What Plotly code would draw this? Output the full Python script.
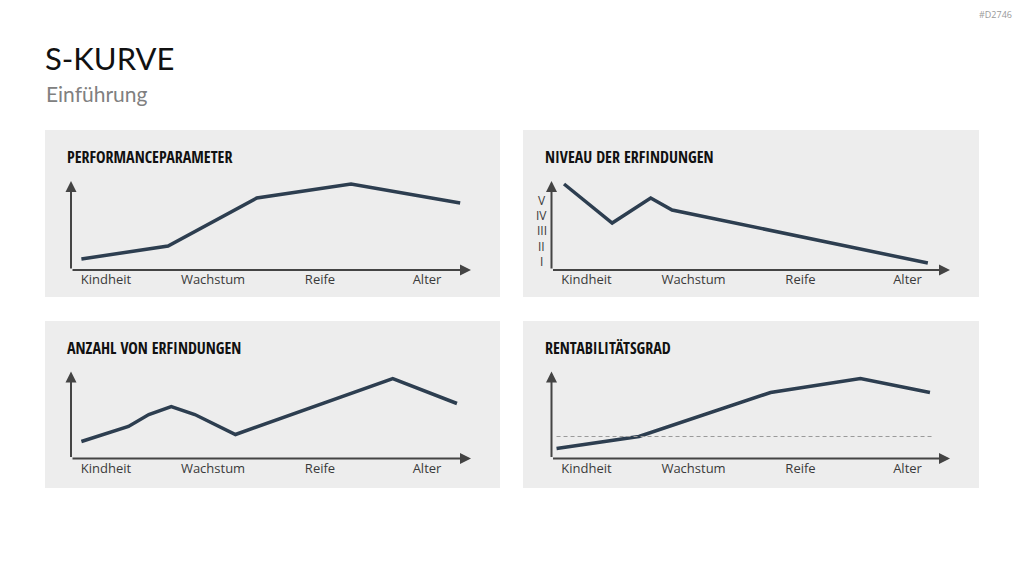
import plotly.graph_objects as go

# ---------------- data ----------------
categories = ["Kindheit", "Wachstum", "Reife", "Alter"]
category_pos = [0, 1, 2, 3]

perf_x = [-0.23, 0.58, 1.41, 2.29, 3.31]
perf_y = [11, 24, 72, 86, 67]

niveau_x = [-0.21, 0.24, 0.60, 0.80, 3.19]
niveau_y = [86, 47, 72, 60, 7]

anzahl_x = [-0.23, 0.21, 0.40, 0.61, 0.83, 1.21, 2.68, 3.28]
anzahl_y = [17, 32, 44, 52, 44, 24, 80, 55]

rent_x = [-0.28, 0.49, 1.72, 2.56, 3.21]
rent_y = [10, 22, 66, 80, 66]

threshold_x = [-0.28, 3.23]
threshold_y = [22, 22]

roman_labels = ["I", "II", "III", "IV", "V"]
roman_y = [9, 24, 39.5, 54.5, 69.5]

panel_titles = ["PERFORMANCEPARAMETER", "NIVEAU DER ERFINDUNGEN",
                "ANZAHL VON ERFINDUNGEN", "RENTABILITÄTSGRAD"]

# ---------------- geometry (pixels) ----------------
W, H = 1024, 576
LINE_COLOR = "#2D3E50"
AXIS_COLOR = "#444444"
PANEL_BG = "#EDEDED"
STEP = 107.0  # px per category

panels = [
    dict(rect=(45, 130, 500, 297), ox=71, oy=270, xt=471, yt=181, ty=157),
    dict(rect=(523, 130, 979, 297), ox=551.5, oy=270, xt=950, yt=181, ty=157),
    dict(rect=(45, 321, 500, 488), ox=71, oy=458.5, xt=471, yt=371.5, ty=348),
    dict(rect=(523, 321, 979, 488), ox=551.5, oy=458.5, xt=950, yt=371.5, ty=348),
]

def px(xp):
    return xp / W

def py(yp):
    return 1 - yp / H

series = [(perf_x, perf_y), (niveau_x, niveau_y), (anzahl_x, anzahl_y), (rent_x, rent_y)]

fig = go.Figure()
shapes = []
annotations = []
layout_axes = {}

for i, p in enumerate(panels):
    n = i + 1
    xa = "x" if n == 1 else f"x{n}"
    ya = "y" if n == 1 else f"y{n}"
    xkey = "xaxis" if n == 1 else f"xaxis{n}"
    ykey = "yaxis" if n == 1 else f"yaxis{n}"
    kx = p["ox"] + 35
    xr = [(p["ox"] - kx) / STEP, (p["xt"] - kx) / STEP]
    yr = [0, p["oy"] - p["yt"]]
    layout_axes[xkey] = dict(domain=[px(p["ox"]), px(p["xt"])], range=xr, anchor=ya,
                             showgrid=False, zeroline=False, showline=False,
                             tickvals=category_pos, ticktext=categories, ticks="",
                             tickfont=dict(family="Open Sans", size=13, color="#3A3A3A"),
                             fixedrange=True)
    layout_axes[ykey] = dict(domain=[py(p["oy"]), py(p["yt"])], range=yr, anchor=xa,
                             showgrid=False, zeroline=False, showline=False,
                             showticklabels=False, fixedrange=True)
    x0, y0, x1, y1 = p["rect"]
    shapes.append(dict(type="rect", xref="paper", yref="paper", x0=px(x0), x1=px(x1),
                       y0=py(y1), y1=py(y0), fillcolor=PANEL_BG, line=dict(width=0),
                       layer="below"))
    # axis arrows
    annotations.append(dict(x=xr[1], y=0, ax=xr[0], ay=0, xref=xa, yref=ya, axref=xa, ayref=ya,
                            text="", showarrow=True, arrowhead=2, arrowsize=1.1, arrowwidth=2,
                            arrowcolor=AXIS_COLOR, standoff=0))
    annotations.append(dict(x=xr[0], y=yr[1], ax=xr[0], ay=0, xref=xa, yref=ya, axref=xa, ayref=ya,
                            text="", showarrow=True, arrowhead=2, arrowsize=1.1, arrowwidth=2,
                            arrowcolor=AXIS_COLOR, standoff=0))
    # panel title
    annotations.append(dict(x=px(x0 + 19.5), y=py(p["ty"]), xref="paper", yref="paper",
                            xanchor="left", yanchor="middle", showarrow=False,
                            text=panel_titles[i],
                            font=dict(family="Open Sans Condensed, Roboto Condensed, DejaVu Sans Condensed, sans-serif",
                                      size=16, color="#111111", weight=700)))

    sx, sy = series[i]
    fig.add_trace(go.Scatter(x=sx, y=sy, xaxis=xa, yaxis=ya, mode="lines",
                             line=dict(color=LINE_COLOR, width=3.5), hoverinfo="skip",
                             showlegend=False))

# threshold dashed line in panel 4
fig.add_trace(go.Scatter(x=threshold_x, y=threshold_y, xaxis="x4", yaxis="y4", mode="lines",
                         line=dict(color="#9A9A9A", width=1.2, dash="4px,3px"),
                         hoverinfo="skip", showlegend=False))

# roman numerals for panel 2
for lab, yv in zip(roman_labels, roman_y):
    annotations.append(dict(x=px(541.7), y=yv, xref="paper", yref="y2", text=lab,
                            showarrow=False, xanchor="center", yanchor="middle",
                            font=dict(family="Open Sans", size=12, color="#3A3A3A")))

# headings
annotations.append(dict(x=px(43), y=py(58), xref="paper", yref="paper", text="S-KURVE",
                        showarrow=False, xanchor="left", yanchor="middle",
                        font=dict(family="Lato", size=31, color="#111111")))
annotations.append(dict(x=px(44), y=py(94), xref="paper", yref="paper", text="Einführung",
                        showarrow=False, xanchor="left", yanchor="middle",
                        font=dict(family="Lato", size=21, color="#808080")))
annotations.append(dict(x=px(1014), y=py(14), xref="paper", yref="paper", text="#D2746",
                        showarrow=False, xanchor="right", yanchor="middle",
                        font=dict(family="Open Sans", size=9, color="#9A9A9A")))

fig.update_layout(width=W, height=H, margin=dict(l=0, r=0, t=0, b=0),
                  paper_bgcolor="white", plot_bgcolor="rgba(0,0,0,0)",
                  shapes=shapes, annotations=annotations, **layout_axes)

fig.write_html("out.html", config={"displayModeBar": False})
